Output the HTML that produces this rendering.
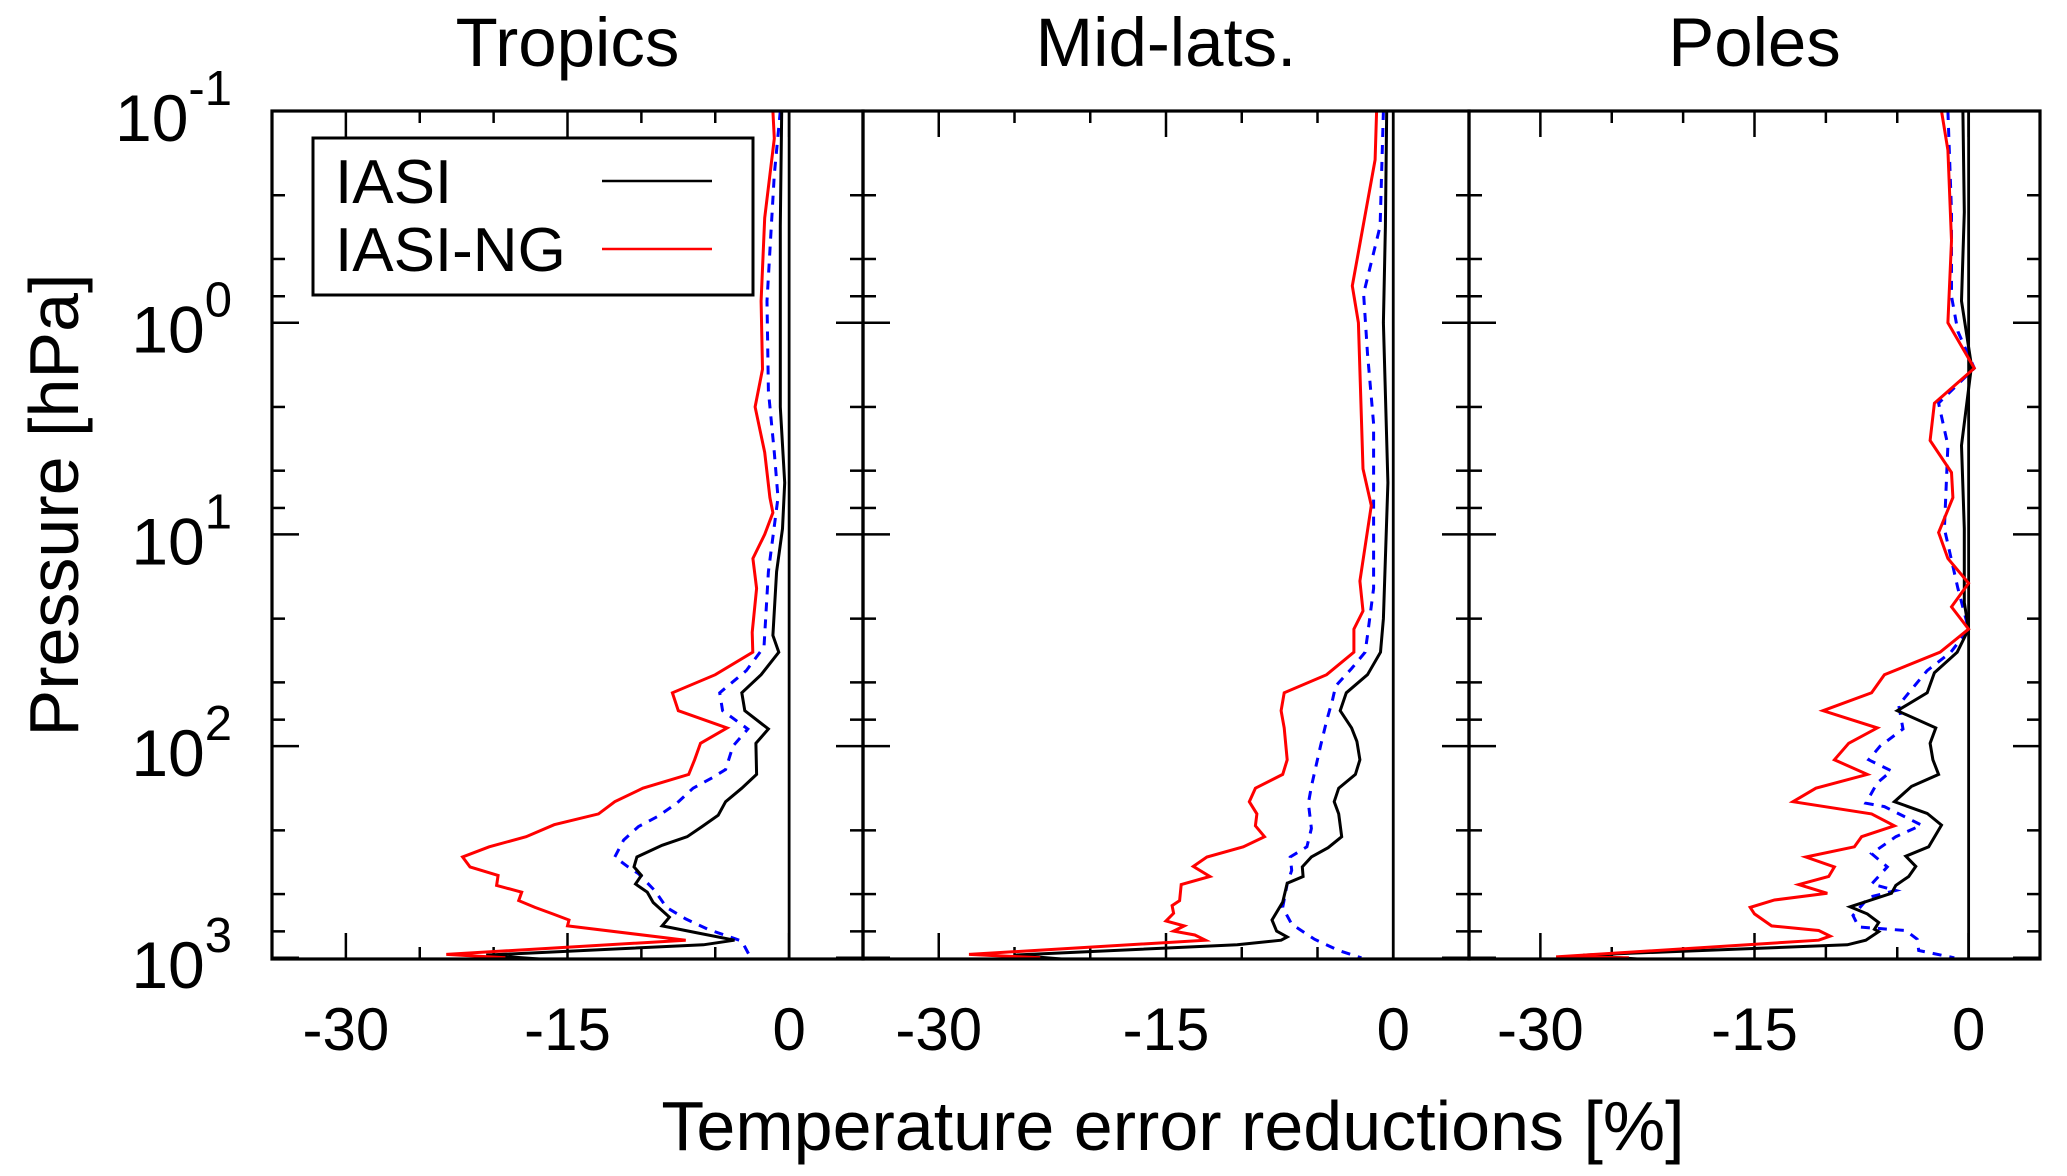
<!DOCTYPE html>
<html><head><meta charset="utf-8">
<style>
html,body{margin:0;padding:0;background:#fff;}
svg{display:block;font-family:"Liberation Sans",Arial,sans-serif;}
</style></head>
<body>
<svg id="chart" width="2067" height="1176" viewBox="0 0 2067 1176" xmlns="http://www.w3.org/2000/svg">
  <rect x="0" y="0" width="2067" height="1176" fill="#fff"/>
  <g id="panels"></g>
  <text transform="translate(78,505) rotate(-90)" text-anchor="middle" font-size="70">Pressure [hPa]</text>
  <text x="1173" y="1150" text-anchor="middle" font-size="70">Temperature error reductions [%]</text>
  <g>
    <rect x="313" y="138" width="440" height="157" fill="#fff" stroke="#000" stroke-width="3"/>
    <text x="335" y="203" font-size="62">IASI</text>
    <line x1="602" y1="181" x2="712" y2="181" stroke="#000" stroke-width="2.5"/>
    <text x="335" y="271" font-size="62">IASI-NG</text>
    <line x1="602" y1="249" x2="712" y2="249" stroke="#f00" stroke-width="2.5"/>
  </g>
</svg>
<script>
// ---- data (pressure hPa, error reduction %) ----
const panelTitles = ["Tropics", "Mid-lats.", "Poles"];
const xTickValues = [-30, -15, 0];
const xMinorTicks = [-25, -20, -10, -5];
const yTickExps = [-1, 0, 1, 2, 3];

const tropIasiP = [0.1,0.35,2.5,5.7,9.4,15,30,36,46,56,68,83,97,136,158,183,212,240,268,294,334,372,408,448,490,548,643,707,760,826,868,971,1013];
const tropIasiV = [-0.5,-0.6,-0.6,-0.3,-0.45,-0.85,-1.1,-0.7,-1.9,-3.2,-3.0,-1.4,-2.25,-2.2,-3.2,-4.3,-4.8,-5.9,-6.9,-8.6,-10.3,-10.5,-10.0,-10.4,-9.6,-9.2,-8.1,-8.6,-6.3,-3.7,-5.8,-20.5,-16.9];
const tropNgP = [0.1,0.135,0.32,0.79,1.66,2.5,4.1,6.7,7.9,10,13,18,29,36,46,56,68,82,97,116,136,158,183,209,235,268,299,334,372,408,455,490,537,578,620,663,707,826,964,1000];
const tropNgV = [-1.1,-1.0,-1.65,-1.9,-1.8,-2.3,-1.65,-1.3,-1.1,-1.65,-2.45,-2.2,-2.5,-2.46,-5.0,-7.9,-7.5,-4.2,-6.0,-6.4,-6.8,-9.9,-11.8,-12.9,-15.9,-17.8,-20.3,-22.1,-21.6,-19.7,-19.8,-18.1,-18.3,-17.2,-16.0,-14.9,-15.0,-7.0,-23.2,-19.2];
const tropBlueP = [0.1,0.2,0.79,2.1,4.1,6.7,15,34,44,56,68,83,100,129,141,158,186,215,240,278,334,372,400,481,578,655,733,834,1000];
const tropBlueV = [-0.6,-1.0,-1.5,-1.4,-1.0,-0.75,-1.4,-1.7,-2.9,-4.7,-4.5,-2.8,-3.8,-4.3,-5.2,-6.5,-7.6,-8.9,-10.2,-11.2,-11.8,-10.9,-10.2,-9.1,-8.3,-7.0,-5.5,-3.2,-2.6];

const midIasiP = [0.1,0.35,1.0,5.7,25,36,46,56,68,82,95,116,136,158,183,209,268,302,334,372,413,444,546,663,748,797,826,868,971,1013];
const midIasiV = [-0.43,-0.52,-0.65,-0.35,-0.65,-0.84,-1.7,-3.1,-3.5,-2.75,-2.4,-2.2,-2.5,-3.6,-3.9,-3.6,-3.4,-4.3,-5.4,-6.0,-5.95,-7.0,-7.3,-8.0,-7.7,-7.0,-7.4,-10.3,-25.0,-21.9];
const midNgP = [0.1,0.17,0.67,1.0,4.9,7.3,16.6,23,28,36,46,56,68,82,116,136,158,183,209,238,268,299,334,370,413,451,537,567,616,670,707,748,780,826,964,1000];
const midNgV = [-1.1,-1.2,-2.7,-2.3,-2.0,-1.45,-2.2,-2.0,-2.6,-2.6,-4.4,-7.2,-7.4,-7.2,-7.0,-7.3,-9.1,-9.5,-9.0,-9.1,-8.5,-9.9,-12.3,-13.2,-12.1,-14.0,-14.1,-14.6,-14.5,-15.0,-13.8,-14.5,-13.1,-12.4,-28.0,-23.3];
const midBlueP = [0.1,0.35,0.73,1.4,3.0,18,30,36,43,52,60,76,100,155,186,245,299,334,386,448,578,694,817,924,1000];
const midBlueV = [-0.65,-0.87,-1.96,-1.7,-1.3,-1.3,-1.7,-1.86,-2.75,-3.8,-4.0,-4.4,-4.8,-5.4,-5.6,-5.4,-5.7,-6.8,-6.7,-7.0,-7.3,-6.7,-5.2,-3.6,-2.1];

const polIasiP = [0.1,0.3,0.79,1.6,3.8,9.4,21,28,36,45,56,68,82,97,116,136,155,183,208,236,299,331,370,413,455,496,574,620,681,733,752,826,868,971,1013];
const polIasiV = [-0.4,-0.3,-0.5,0.2,-0.5,-0.3,-0.3,0,-0.8,-2.4,-2.9,-5.0,-2.3,-2.7,-2.5,-2.1,-4.0,-5.2,-2.9,-1.9,-2.8,-4.4,-3.7,-4.2,-5.1,-5.4,-8.3,-7.1,-6.3,-6.6,-6.3,-7.2,-8.5,-27.0,-23.2];
const polNgP = [0.1,0.153,0.41,1.0,1.64,2.4,3.6,5.1,6.7,9.8,13,17,22,28,36,46,56,68,82,97,116,136,158,183,209,238,268,299,334,372,413,451,496,533,578,620,707,743,790,826,990,1000];
const polNgV = [-1.9,-1.45,-1.2,-1.45,0.4,-2.4,-2.7,-1.2,-1.1,-2.1,-1.45,0,-1.2,0,-2.0,-5.9,-6.8,-10.2,-6.4,-8.4,-9.4,-7.1,-10.7,-12.3,-6.8,-5.2,-7.5,-8.0,-11.4,-9.4,-9.8,-11.9,-9.9,-13.6,-15.3,-15.0,-13.8,-10.5,-9.7,-10.5,-28.9,-23.8];
const polBlueP = [0.1,0.3,0.75,1.1,1.64,2.4,3.8,9.4,18,28,36,44,52,64,83,100,116,131,149,186,193,236,268,322,372,448,481,518,631,715,743,817,924,1000];
const polBlueV = [-1.45,-1.2,-1.2,-0.75,0.4,-2.1,-1.45,-1.7,-0.75,0,-1.25,-2.9,-3.8,-4.9,-4.6,-6.2,-7.0,-5.4,-6.4,-7.2,-5.9,-3.3,-5.1,-6.8,-5.7,-6.8,-5.1,-7.0,-8.1,-7.7,-4.4,-3.6,-3.5,-1.0];

const seriesIasiP = [tropIasiP, midIasiP, polIasiP];
const seriesIasiV = [tropIasiV, midIasiV, polIasiV];
const seriesNgP = [tropNgP, midNgP, polNgP];
const seriesNgV = [tropNgV, midNgV, polNgV];
const seriesBlueP = [tropBlueP, midBlueP, polBlueP];
const seriesBlueV = [tropBlueV, midBlueV, polBlueV];

// ---- layout ----
const NS = "http://www.w3.org/2000/svg";
const panelLeft = [272, 863, 1469];
const panelRight = [863, 1469, 2040];
const yTop = 111, yBot = 959;
const xMin = -35, xMax = 5;
const pMin = 0.1, pMax = 1013;
function yScale(p){ return yTop + (Math.log10(p) - Math.log10(pMin)) / (Math.log10(pMax) - Math.log10(pMin)) * (yBot - yTop); }
function xScale(i, v){ return panelLeft[i] + (v - xMin) / (xMax - xMin) * (panelRight[i] - panelLeft[i]); }
function mk(tag, attrs, parent){ const e = document.createElementNS(NS, tag); for (const k in attrs) e.setAttribute(k, attrs[k]); parent.appendChild(e); return e; }

const root = document.getElementById("panels");
for (let i = 0; i < 3; i++) {
  const g = mk("g", {}, root);
  
  
  const L = panelLeft[i], R = panelRight[i];
  const t = mk("text", {x: (L + R) / 2, y: 66, "text-anchor": "middle", "font-size": 69}, g);
  t.textContent = panelTitles[i];
  
  
  for (const e of yTickExps) {
    for (let d = 0; d < 4; d++) {
      const p = (d === 0 ? 1 : 2.5 * d) * Math.pow(10, e);
      if (p > pMax) continue;
      const y = yScale(p);
      const len = d === 0 ? 27 : 13;
      mk("line", {x1: L, y1: y, x2: L + len, y2: y, stroke: "#000", "stroke-width": 2.5}, g);
      mk("line", {x1: R, y1: y, x2: R - len, y2: y, stroke: "#000", "stroke-width": 2.5}, g);
    }
  }
  for (const v of xTickValues.concat(xMinorTicks)) {
    const x = xScale(i, v);
    const len = xTickValues.includes(v) ? 26 : 12;
    mk("line", {x1: x, y1: yTop, x2: x, y2: yTop + len, stroke: "#000", "stroke-width": 2.5}, g);
    mk("line", {x1: x, y1: yBot, x2: x, y2: yBot - len, stroke: "#000", "stroke-width": 2.5}, g);
  }
  for (const v of xTickValues) {
    const lab = mk("text", {x: xScale(i, v), y: 1050, "text-anchor": "middle", "font-size": 60}, g);
    lab.textContent = String(v);
    
    
  }
  const z = mk("line", {x1: xScale(i, 0), y1: yTop, x2: xScale(i, 0), y2: yBot, stroke: "#000", "stroke-width": 2.8}, g);
  
  
  function line(P, V, color, dash, name) {
    const pts = P.map((p, k) => xScale(i, V[k]).toFixed(1) + "," + yScale(p).toFixed(1)).join(" ");
    const pl = mk("polyline", {points: pts, fill: "none", stroke: color, "stroke-width": 3, "stroke-linejoin": "miter"}, g);
    if (dash) pl.setAttribute("stroke-dasharray", dash);
    
    
  }
  line(seriesBlueP[i], seriesBlueV[i], "#00f", "9,8", "series-blue-dashed");
  line(seriesIasiP[i], seriesIasiV[i], "#000", null, "series-iasi");
  line(seriesNgP[i], seriesNgV[i], "#f00", null, "series-iasi-ng");
  const fr = mk("rect", {x: L, y: yTop, width: R - L, height: yBot - yTop, fill: "none", stroke: "#000", "stroke-width": 3.2}, g);
  
  
}
for (const e of yTickExps) {
  const y = yScale(Math.pow(10, e));
  const t = mk("text", {x: 232, y: y + 30, "text-anchor": "end", "font-size": 66}, root);
  
  
  const a = document.createElementNS(NS, "tspan"); a.textContent = "10"; t.appendChild(a);
  const b = document.createElementNS(NS, "tspan"); b.setAttribute("dy", "-36"); b.setAttribute("font-size", "49"); b.textContent = String(e); t.appendChild(b);
}
</script>
</body></html>
